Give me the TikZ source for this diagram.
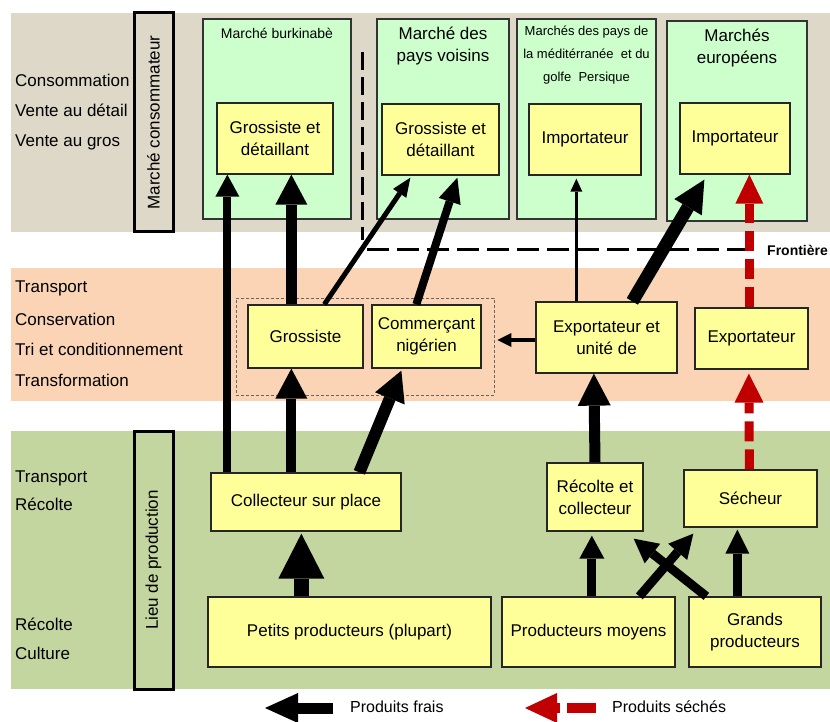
\documentclass[tikz,border=0pt]{standalone}
\usepackage{fontspec}
\setmainfont{Liberation Sans}
\usetikzlibrary{arrows.meta}
\definecolor{bandtop}{RGB}{221,216,200}
\definecolor{bandmid}{RGB}{250,212,180}
\definecolor{bandlow}{RGB}{196,214,160}
\definecolor{mint}{RGB}{204,255,204}
\definecolor{paleyellow}{RGB}{255,255,153}
\definecolor{dryred}{RGB}{192,0,0}
\newcommand{\fsz}[2]{\fontsize{#1}{#2}\selectfont}

\begin{document}
\begin{tikzpicture}[x=1pt,y=-1pt,
  market/.style={draw=black!80, line width=1.2pt, fill=mint, inner sep=0pt},
  actor/.style={draw=black!85, line width=1.3pt, fill=paleyellow, inner sep=0pt,
    align=center, font=\fsz{17}{22}},
  sidebox/.style={draw=black, line width=3pt, inner sep=0pt, font=\fsz{17}{20}},
  stage/.style={anchor=base west, font=\fsz{17}{20}, inner sep=0pt},
  mtitle/.style={align=center, inner sep=0pt, font=\fsz{17}{22}},
  flow/.style args={#1/#2/#3}{draw=black, line width=#1pt,
    -{Triangle[width=#2pt,length=#3pt,line width=0pt]}},
  dry/.style args={#1/#2/#3}{draw=dryred, line width=#1pt,
    dash pattern=on 20pt off 8pt,
    -{Triangle[width=#2pt,length=#3pt,line width=0pt]}},
  border/.style={draw=black, line width=3pt}
]
\useasboundingbox (0,0) rectangle (830,722);

% three horizontal bands
\fill[bandtop] (11,13) rectangle (830,232);
\fill[bandmid] (11,268) rectangle (830,401);
\fill[bandlow] (11,431) rectangle (830,689);

% stage labels on the left
\node[stage] (s1) at (15,87)  {Consommation};
\node[stage] (s2) at (15,117) {Vente au détail};
\node[stage] (s3) at (15,147) {Vente au gros};
\node[stage] (s4) at (15,292) {Transport};
\node[stage] (s5) at (15,325) {Conservation};
\node[stage] (s6) at (15,355) {Tri et conditionnement};
\node[stage] (s7) at (15,386) {Transformation};
\node[stage] (s8) at (15,482) {Transport};
\node[stage] (s9) at (15,510) {Récolte};
\node[stage] (s10) at (15,630) {Récolte};
\node[stage] (s11) at (15,659) {Culture};

% vertical level labels
\node[sidebox, rotate=90, minimum width=219pt, minimum height=39pt]
  (vc) at (153.5,122.5) {Marché consommateur};
\node[sidebox, rotate=90, minimum width=258pt, minimum height=39pt]
  (vp) at (153.5,560) {Lieu de production};

% consumer markets
\node[market, minimum width=148pt, minimum height=200pt] (m1) at (277,119) {};
\node[market, minimum width=132pt, minimum height=200pt] (m2) at (443,119) {};
\node[market, minimum width=139pt, minimum height=200pt] (m3) at (586.5,119) {};
\node[market, minimum width=140pt, minimum height=200pt] (m4) at (737,121) {};
\node[mtitle, font=\fsz{14}{18}] (t1) at ([yshift=-15pt]m1.north) {Marché burkinabè};
\node[mtitle] (t2) at ([yshift=-28pt]m2.north) {Marché des\\pays voisins};
\node[mtitle, font=\fsz{13}{23}] (t3) at ([yshift=-37pt]m3.north)
  {Marchés des pays de\\la méditérranée~ et du\\golfe~ Persique};
\node[mtitle] (t4) at ([yshift=-27.5pt]m4.north) {Marchés\\européens};

% frontier
\coordinate (fv1) at (362,52);
\coordinate (fv2) at (362,240);
\coordinate (fh1) at (367,250);
\coordinate (fh2) at (752,250);
\draw[border, dash pattern=on 18pt off 7pt] (fv1) -- (fv2);
\draw[border, dash pattern=on 22pt off 8pt] (fh1) -- (fh2);
\node[anchor=west, inner sep=0pt, font=\bfseries\fsz{14}{17}] (front) at (767,250) {Frontière};

% actors in the markets
\node[actor, minimum width=116pt, minimum height=71pt] (gd1) at (275,138.5) {Grossiste et\\détaillant};
\node[actor, minimum width=117pt, minimum height=71pt] (gd2) at (440.5,139.5) {Grossiste et\\détaillant};
\node[actor, minimum width=112pt, minimum height=71pt] (imp1) at (585,139.5) {Importateur};
\node[actor, minimum width=110pt, minimum height=71pt] (imp2) at (735,138.5) {Importateur};

% transport and processing
\node[draw=black!60, line width=0.9pt, dash pattern=on 3pt off 2pt, inner sep=0pt,
  minimum width=258pt, minimum height=97pt] (grp) at (365,346.5) {};
\node[actor, minimum width=115pt, minimum height=63pt] (gros) at (305.5,336.5) {Grossiste};
\node[actor, minimum width=109pt, minimum height=63pt] (comm) at (426.5,336.5) {Commerçant\\nigérien};
\node[actor, minimum width=141pt, minimum height=71pt] (expu) at (606.5,337.5) {Exportateur et\\unité de};
\node[actor, minimum width=113pt, minimum height=61pt] (expo) at (751.5,338.5) {Exportateur};

% production
\node[actor, minimum width=190pt, minimum height=58pt] (coll) at (306,502) {Collecteur sur place};
\node[actor, minimum width=96pt, minimum height=68pt] (rec) at (595,497) {Récolte et\\collecteur};
\node[actor, minimum width=133pt, minimum height=57pt] (sech) at (750.5,498.5) {Sécheur};
\node[actor, minimum width=283pt, minimum height=70pt] (petits) at (349.5,632) {Petits producteurs (plupart)};
\node[actor, minimum width=173pt, minimum height=70pt] (moy) at (588.5,632) {Producteurs moyens};
\node[actor, minimum width=132pt, minimum height=70pt] (grands) at (755,632) {Grands\\producteurs};

% fresh product flows
\draw[flow={8/24/22}]  ([xshift=17pt]coll.north west) -- ([xshift=11pt]gd1.south west);
\draw[flow={10/32/30}] ([xshift=81pt]coll.north west) -- ([xshift=44pt]gros.south west);
\draw[flow={11/32/30}] ([xshift=44pt]gros.north west) -- ([xshift=75pt]gd1.south west);
\draw[flow={5/16/19}]  ([xshift=77pt]gros.north west) -- ([xshift=29pt,yshift=-2pt]gd2.south west);
\draw[flow={12/32/30}] ([xshift=149pt]coll.north west) -- ([xshift=30pt,yshift=-2pt]comm.south west);
\draw[flow={8/23/25}]  ([xshift=45pt]comm.north west) -- ([xshift=76pt,yshift=-2pt]gd2.south west);
\draw[flow={4/14/14}, shorten >=3pt] ([yshift=-2.5pt]expu.west) -- ([yshift=-2.5pt]expu.west -| grp.east);
\draw[flow={3/12/13}]  ([xshift=41pt]expu.north west) -- ([xshift=48pt,yshift=-3pt]imp1.south west);
\draw[flow={13/32/32}] ([xshift=97pt]expu.north west) -- ([xshift=25pt,yshift=-5pt]imp2.south west);
\draw[flow={11/33/32}] (rec.north) -- ([xshift=58.5pt]expu.south west);
\draw[flow={9/25/23}]  ([xshift=90.5pt]moy.north west) -- ([xshift=45.5pt,yshift=-4pt]rec.south west);
\draw[flow={9/25/24}]  ([xshift=138pt]moy.north west) -- ([xshift=10pt,yshift=-6pt]sech.south west);
\draw[flow={9/25/24}]  ([xshift=18pt]grands.north west) -- ([xshift=-10pt,yshift=-7pt]rec.south east);
\draw[flow={9/24/24}]  ([xshift=49pt]grands.north west) -- ([xshift=54pt,yshift=-2pt]sech.south west);
\draw[flow={15/46/45}] ([xshift=94pt]petits.north west) -- ([xshift=91pt,yshift=-2pt]coll.south west);

% dried product flows
\draw[dry={9/29/29}] ([xshift=66pt]sech.north west) -- ([xshift=54.5pt,yshift=-4pt]expo.south west);
\draw[dry={9/28/29}] ([xshift=55pt]expo.north west) -- ([xshift=70pt]imp2.south west);

% legend
\coordinate (lgA) at (333,708);
\coordinate (lgB) at (265,708);
\draw[flow={11/30/33}] (lgA) -- (lgB);
\node[anchor=west, inner sep=0pt, font=\fsz{16}{18}] (lgt) at (350,707) {Produits frais};
\coordinate (lrA) at (596,708);
\coordinate (lrB) at (525,708);
\draw[dry={10/30/32}, dash pattern=on 29pt off 7pt] (lrA) -- (lrB);
\node[anchor=west, inner sep=0pt, font=\fsz{16}{18}] (lrt) at (612,707) {Produits séchés};
\end{tikzpicture}
\end{document}
